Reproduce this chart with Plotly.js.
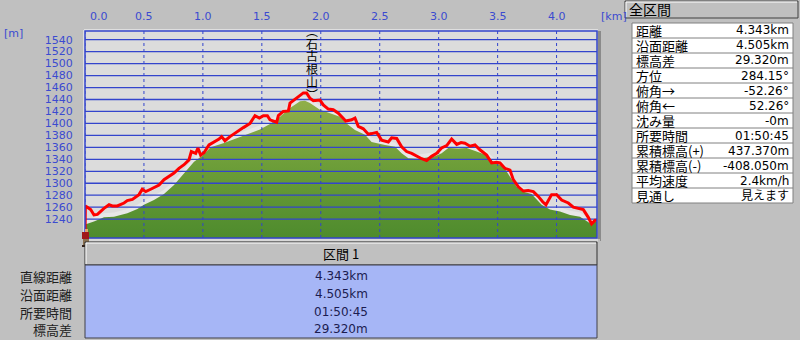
<!DOCTYPE html>
<html><head><meta charset="utf-8">
<script src="https://cdn.plot.ly/plotly-3.0.1.min.js"></script>
<style>html,body{margin:0;padding:0;background:#c0c0c0;}#chart{width:800px;height:340px;}</style>
</head><body><div id="chart"></div>
<script>
// ---- data ----
const trackKm = [0.000,0.003,0.020,0.048,0.076,0.105,0.161,0.204,0.232,0.274,0.331,0.359,0.402,0.458,0.486,0.515,0.557,0.600,0.628,0.670,0.712,0.755,0.797,0.840,0.882,0.902,0.939,0.958,0.981,1.009,1.052,1.108,1.137,1.159,1.187,1.230,1.286,1.343,1.400,1.442,1.479,1.513,1.547,1.569,1.626,1.640,1.682,1.725,1.739,1.767,1.809,1.852,1.880,1.908,1.937,1.993,2.021,2.064,2.106,2.149,2.212,2.262,2.290,2.318,2.361,2.403,2.431,2.474,2.516,2.573,2.601,2.644,2.686,2.728,2.771,2.813,2.856,2.898,2.940,2.983,3.025,3.068,3.110,3.153,3.190,3.223,3.266,3.308,3.350,3.407,3.449,3.491,3.520,3.562,3.605,3.633,3.676,3.718,3.760,3.803,3.845,3.882,3.910,3.958,4.001,4.043,4.100,4.142,4.184,4.227,4.269,4.297,4.326,4.343];
const trackElev = [1209,1262,1260,1256,1247,1248,1258,1264,1262,1262,1267,1271,1273,1281,1290,1286,1290,1294,1297,1306,1311,1317,1325,1331,1339,1353,1350,1359,1347,1351,1364,1370,1374,1378,1371,1378,1386,1393,1400,1413,1409,1413,1413,1406,1402,1413,1420,1421,1434,1438,1445,1451,1451,1442,1438,1439,1431,1424,1423,1417,1404,1406,1409,1395,1391,1382,1383,1385,1372,1369,1376,1375,1361,1353,1350,1345,1341,1338,1345,1350,1359,1363,1374,1365,1368,1367,1362,1364,1356,1347,1334,1335,1334,1325,1322,1306,1294,1287,1288,1286,1278,1269,1264,1281,1281,1272,1267,1260,1258,1256,1243,1232,1238,1238];
const terrainKm = [0.000,0.076,0.161,0.246,0.302,0.359,0.444,0.500,0.585,0.670,0.755,0.840,0.925,0.995,1.066,1.173,1.286,1.400,1.484,1.569,1.654,1.739,1.824,1.866,1.908,1.993,2.078,2.163,2.205,2.290,2.375,2.431,2.545,2.630,2.686,2.743,2.828,2.884,2.969,3.025,3.082,3.167,3.237,3.322,3.407,3.463,3.548,3.605,3.661,3.718,3.788,3.873,3.944,4.029,4.114,4.199,4.283,4.343];
const terrainElev = [1231,1236,1243,1244,1247,1250,1257,1264,1272,1282,1297,1317,1336,1346,1360,1367,1375,1384,1390,1399,1411,1426,1437,1438,1434,1423,1417,1411,1402,1389,1381,1369,1364,1361,1350,1342,1341,1343,1345,1350,1359,1358,1359,1353,1347,1336,1328,1311,1294,1286,1282,1264,1256,1253,1247,1244,1233,1236];
const xTicks = [0,0.5,1.0,1.5,2.0,2.5,3.0,3.5,4.0];
const xTickLabels = ['0.0','0.5','1.0','1.5','2.0','2.5','3.0','3.5','4.0'];
const yGridTicks = [1240,1260,1280,1300,1320,1340,1360,1380,1400,1420,1440,1460,1480,1500,1520,1540];
const yBottomLabel = 1208;
const peakChars = ['︵','石','古','根','山','︶'];
const peakKm = 1.923;
const summaryTitle = '全区間';
const summaryLabels = ['距離','沿面距離','標高差','方位','俯角→','俯角←','沈み量','所要時間','累積標高(+)','累積標高(-)','平均速度','見通し'];
const summaryValues = ['4.343km','4.505km','29.320m','284.15°','-52.26°','52.26°','-0m','01:50:45','437.370m','-408.050m','2.4km/h','見えます'];
const sectionTitle = '区間 1';
const sectionLabels = ['直線距離','沿面距離','所要時間','標高差'];
const sectionValues = ['4.343km','4.505km','01:50:45','29.320m'];

// ---- layout helpers ----
const L=85, R=597, T=31, B=238;
const px = x => (x-L)/(R-L);
const py = y => (B-y)/(B-T);
const X_MAX = 4.343, Y_MIN = 1208.5, Y_MAX = 1554.5;
const BLUE = '#3344cc', TXTBLUE = '#3b4bd0';
const NUM = 'DejaVu Sans, Noto Sans CJK JP, sans-serif';
const JP = 'Noto Sans CJK JP, sans-serif';

const hx=[], hy=[];
yGridTicks.forEach(v=>{hx.push(0,X_MAX,null); hy.push(v,v,null);});
const vx=[], vy=[];
xTicks.forEach(t=>{vx.push(t,t,null); vy.push(Y_MIN,Y_MAX,null);});

const traces = [
  {x: terrainKm, y: terrainElev.map(v=>v+7), type:'scatter', mode:'lines', fill:'tozeroy',
   fillcolor:'#e7e7e7', line:{width:0, color:'rgba(0,0,0,0)'}, hoverinfo:'skip'},
  {x: terrainKm, y: terrainElev, type:'scatter', mode:'lines', fill:'tozeroy', line:{width:0, color:'rgba(0,0,0,0)'},
   fillgradient:{type:'vertical', start:1208, stop:1445, colorscale:[[0,'#4e8b2d'],[0.5,'#6c9d38'],[1,'#93b04b']]}, hoverinfo:'skip'},
  {x: hx, y: hy, type:'scatter', mode:'lines', line:{color:BLUE, width:1.3}, hoverinfo:'skip', connectgaps:false},
  {x: vx, y: vy, type:'scatter', mode:'lines', line:{color:BLUE, width:1, dash:'dot'}, hoverinfo:'skip', connectgaps:false},
  {x: trackKm, y: trackElev, type:'scatter', mode:'lines', line:{color:'#ff0000', width:3}, hoverinfo:'skip'}
];

const shapes = [];
const ann = [];
// plot frame
shapes.push({type:'line', xref:'paper', yref:'paper', x0:px(84), x1:px(84), y0:py(30), y1:py(240), line:{color:'#ffffff', width:1}});
shapes.push({type:'line', xref:'paper', yref:'paper', x0:px(84), x1:px(598), y0:py(30), y1:py(30), line:{color:'#ffffff', width:1}});
shapes.push({type:'rect', xref:'paper', yref:'paper', x0:0, x1:1, y0:0, y1:1, line:{color:BLUE, width:1.5}});
shapes.push({type:'rect', xref:'paper', yref:'paper', x0:px(598), x1:px(601), y0:py(31), y1:py(241), fillcolor:'#8a8a8a', line:{width:0}});
shapes.push({type:'line', xref:'paper', yref:'paper', x0:px(84), x1:px(600), y0:py(240), y1:py(240), line:{color:'#f0f0f0', width:1}});

// x tick labels
xTicks.forEach((t,i)=>{
  ann.push({x:t, xref:'x', y:py(17), yref:'paper', text:xTickLabels[i], showarrow:false,
    xanchor: i===0?'left':'center', xshift: i===0?3:0, yanchor:'middle', font:{family:NUM, size:11, color:TXTBLUE}});
});
ann.push({x:px(599), xref:'paper', y:py(17), yref:'paper', text:'[km]', showarrow:false, xanchor:'left', yanchor:'middle', font:{family:NUM, size:11, color:TXTBLUE}});
ann.push({x:px(2), xref:'paper', y:py(33), yref:'paper', text:'[m]', showarrow:false, xanchor:'left', yanchor:'middle', font:{family:NUM, size:11, color:TXTBLUE}});

// peak label (vertical writing, one text block with tight line spacing)
ann.push({x:peakKm, xref:'x', y:py(62), yref:'paper', showarrow:false, xanchor:'center', yanchor:'middle',
  text: peakChars.map(c=>'<span style="font-size:12px">'+c+'</span>').join('<br>'),
  font:{family:JP, size:9.8, color:'#000000'}});

// hiker icon
shapes.push({type:'rect', xref:'paper', yref:'paper', x0:px(85), x1:px(88), y0:py(229), y1:py(232), fillcolor:'#e0a070', line:{width:0}});
shapes.push({type:'rect', xref:'paper', yref:'paper', x0:px(82), x1:px(89), y0:py(232), y1:py(239), fillcolor:'#a01818', line:{width:0}});
shapes.push({type:'rect', xref:'paper', yref:'paper', x0:px(83), x1:px(89), y0:py(239), y1:py(245), fillcolor:'#8a7050', line:{width:0}});
shapes.push({type:'rect', xref:'paper', yref:'paper', x0:px(82), x1:px(91), y0:py(245), y1:py(247), fillcolor:'#302018', line:{width:0}});

// right summary panel
shapes.push({type:'rect', xref:'paper', yref:'paper', x0:px(625), x1:px(798), y0:py(1), y1:py(18), fillcolor:'#c0c0c0', line:{color:'#404040', width:1}});
shapes.push({type:'line', xref:'paper', yref:'paper', x0:px(626), x1:px(797), y0:py(2), y1:py(2), line:{color:'#ffffff', width:1}});
shapes.push({type:'line', xref:'paper', yref:'paper', x0:px(626), x1:px(626), y0:py(2), y1:py(17), line:{color:'#ffffff', width:1}});
ann.push({x:px(627), xref:'paper', y:py(9.5), yref:'paper', text:summaryTitle, showarrow:false, xanchor:'left', yanchor:'middle', font:{family:JP, size:14, color:'#000'}});
const rowH = 15, tTop = 23;
shapes.push({type:'rect', xref:'paper', yref:'paper', x0:px(632), x1:px(793), y0:py(tTop), y1:py(tTop+rowH*summaryLabels.length), fillcolor:'#ffffff', line:{color:'#808080', width:1}});
summaryLabels.forEach((lab,i)=>{
  const yc = tTop + rowH*i + rowH/2;
  if(i>0) shapes.push({type:'line', xref:'paper', yref:'paper', x0:px(632), x1:px(793), y0:py(tTop+rowH*i), y1:py(tTop+rowH*i), line:{color:'#808080', width:1}});
  ann.push({x:px(634), xref:'paper', y:py(yc), yref:'paper', text:lab, showarrow:false, xanchor:'left', yanchor:'middle', font:{family:JP, size:13, color:'#000'}});
  ann.push({x:px(791), xref:'paper', y:py(yc), yref:'paper', text:summaryValues[i], showarrow:false, xanchor:'right', yanchor:'middle', font:{family:NUM, size:12, color:'#000'}});
});

// bottom section panel
shapes.push({type:'rect', xref:'paper', yref:'paper', x0:px(85), x1:px(597), y0:py(242), y1:py(265), fillcolor:'#c0c0c0', line:{color:'#303030', width:1}});
shapes.push({type:'line', xref:'paper', yref:'paper', x0:px(86), x1:px(596), y0:py(243), y1:py(243), line:{color:'#ffffff', width:1}});
shapes.push({type:'line', xref:'paper', yref:'paper', x0:px(86), x1:px(86), y0:py(243), y1:py(264), line:{color:'#ffffff', width:1}});
ann.push({x:px(341), xref:'paper', y:py(254), yref:'paper', text:sectionTitle, showarrow:false, xanchor:'center', yanchor:'middle', font:{family:JP, size:13, color:'#000'}});
shapes.push({type:'rect', xref:'paper', yref:'paper', x0:px(85), x1:px(597), y0:py(265), y1:py(338), fillcolor:'#a6b6f6', line:{color:'#404048', width:1}});
const secY = [276, 294, 312, 329];
sectionLabels.forEach((lab,i)=>{
  ann.push({x:px(74), xref:'paper', y:py(secY[i]), yref:'paper', text:lab, showarrow:false, xanchor:'right', yanchor:'middle', font:{family:JP, size:13, color:'#202020'}});
  ann.push({x:px(341), xref:'paper', y:py(secY[i]), yref:'paper', text:sectionValues[i], showarrow:false, xanchor:'center', yanchor:'middle', font:{family:NUM, size:12, color:'#1c1c50'}});
});

const layout = {
  width:800, height:340,
  margin:{l:L, r:800-R, t:T, b:340-B, pad:0},
  paper_bgcolor:'#c0c0c0', plot_bgcolor:'#dcdcdc',
  showlegend:false,
  xaxis:{range:[0,X_MAX], showgrid:false, zeroline:false, showticklabels:false, ticks:'', showline:false, fixedrange:true},
  yaxis:{range:[Y_MIN,Y_MAX], showgrid:false, zeroline:false, showline:false,
    tickvals:[yBottomLabel].concat(yGridTicks), ticktext:[String(yBottomLabel)].concat(yGridTicks.map(String)),
    ticks:'outside', ticklen:9, tickcolor:'rgba(0,0,0,0)', tickfont:{family:NUM, size:11, color:TXTBLUE}, fixedrange:true},
  shapes:shapes, annotations:ann
};
Plotly.newPlot('chart', traces, layout, {displayModeBar:false, staticPlot:true});
</script>
</body></html>
